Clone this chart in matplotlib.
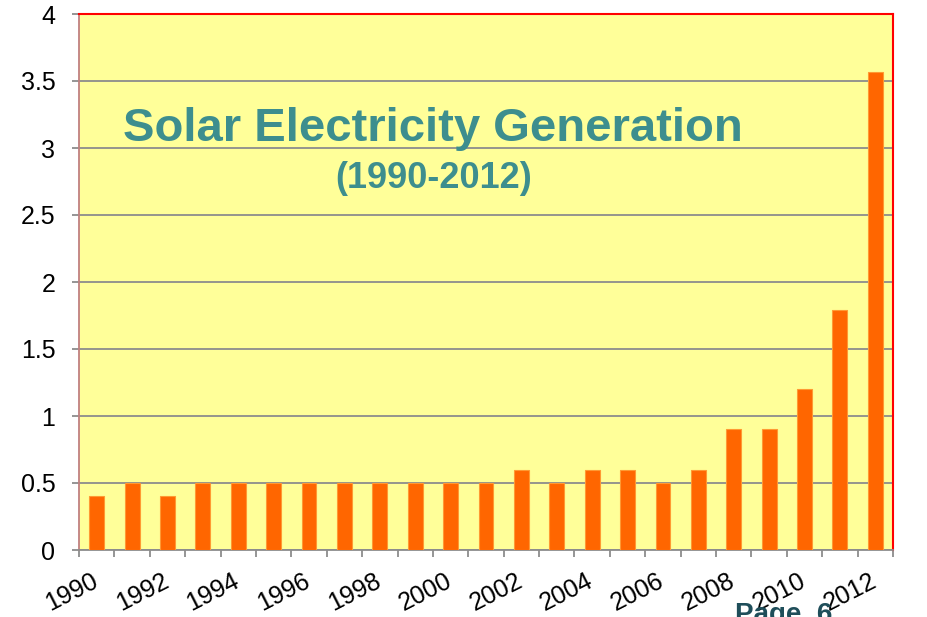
import numpy as np
import matplotlib.pyplot as plt

plt.rcParams["font.family"] = ["Liberation Sans", "DejaVu Sans"]

# =========================
# Data
# =========================
years = list(range(1990, 2013))
generation = [0.4, 0.5, 0.4, 0.5, 0.5, 0.5, 0.5, 0.5, 0.5, 0.5, 0.5, 0.5,
              0.6, 0.5, 0.6, 0.6, 0.5, 0.6, 0.9, 0.9, 1.2, 1.79, 3.57]
year_labels = [str(y) if (y - 1990) % 2 == 0 else "" for y in years]
y_ticks = [0, 0.5, 1, 1.5, 2, 2.5, 3, 3.5, 4]

# =========================
# Figure
# =========================
fig = plt.figure(figsize=(9.27, 6.17), dpi=100)
ax = fig.add_axes([79 / 927, 1 - 550 / 617, 814 / 927, 536 / 617])
ax.set_facecolor("#FFFF99")

x = np.arange(len(years))
ax.bar(x, generation, width=0.42, color="#FF6600", edgecolor="#FF9933",
       linewidth=0.8, zorder=3)

ax.set_xlim(-0.5, len(years) - 0.5)
ax.set_ylim(0, 4)
ax.set_yticks(y_ticks)
ax.set_yticklabels([f"{v:g}" for v in y_ticks], fontsize=18)
ax.grid(axis="y", color="#8C8C8C", linewidth=1.3, zorder=1)

# ticks at category boundaries, labels at category centres
ax.set_xticks(np.arange(len(years) + 1) - 0.5)
ax.set_xticklabels([])
ax.tick_params(axis="x", length=5, width=1.3, color="#8C8C8C", direction="out")
ax.tick_params(axis="y", length=5, width=1.3, color="#8C8C8C", pad=12)
for xi, lab in zip(x, year_labels):
    if lab:
        ax.text(xi - 0.17, -0.14, lab, rotation=27, ha="right", va="top",
                rotation_mode="anchor", fontsize=18,
                transform=ax.transData, clip_on=False)

for side in ["top", "right"]:
    ax.spines[side].set_color("#FF0000")
    ax.spines[side].set_linewidth(1.5)
ax.spines["left"].set_color("#C08080")
ax.spines["left"].set_linewidth(1.3)
ax.spines["bottom"].set_color("#8C8C8C")
ax.spines["bottom"].set_linewidth(1.3)

ax.text(0.435, 0.785, "Solar Electricity Generation", transform=ax.transAxes,
        ha="center", va="center", fontsize=34, fontweight="bold",
        color="#3D8E8E", zorder=5)
ax.text(0.436, 0.693, "(1990-2012)", transform=ax.transAxes,
        ha="center", va="center", fontsize=26, fontweight="bold",
        color="#3D8E8E", zorder=5)

fig.text(735 / 927, -0.018, "Page  6", ha="left", va="bottom", fontsize=20,
         fontweight="bold", color="#1F4E5A")

fig.savefig("out.png", dpi=100)
plt.close(fig)
